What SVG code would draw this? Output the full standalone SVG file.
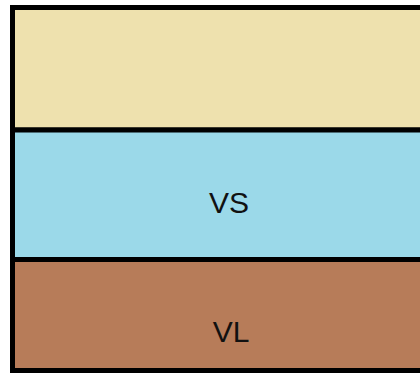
<svg xmlns="http://www.w3.org/2000/svg" width="420" height="373" viewBox="0 0 420 373">
<style>
.band{stroke:#000;stroke-width:5}
.lbl{font-family:"Liberation Sans",Arial,sans-serif;font-size:30px;fill:#111;text-anchor:middle}
</style>
<rect width="420" height="373" fill="#fff"/>
<g id="layer-top"><rect class="band" x="12.5" y="7.5" width="420" height="122.5" fill="#EEE1AE"/></g>
<g id="layer-vs"><rect class="band" x="12.5" y="130" width="420" height="129.5" fill="#9BD9E9"/><text class="lbl" x="229" y="213">VS</text></g>
<g id="layer-vl"><rect class="band" x="12.5" y="259.5" width="420" height="111" fill="#B77C59"/><text class="lbl" x="231" y="342">VL</text></g>
</svg>
